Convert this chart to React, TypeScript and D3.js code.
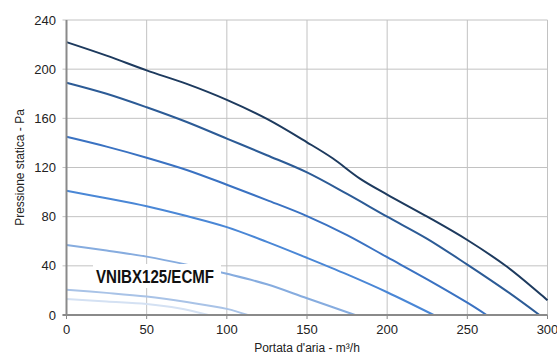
import React from "react";
import * as d3 from "d3";

const xTicks = [0, 50, 100, 150, 200, 250, 300];
const yTicks = [0, 40, 80, 120, 160, 200, 240];

const curve1: [number, number][] = [[0,222],[25,211],[50,199],[75,188],[100,175],[125,159.5],[150,140.5],[166,127.5],[183,111],[200,98],[225,80],[250,61],[275,39],[300,12]];
const curve2: [number, number][] = [[0,189],[25,180],[50,169],[75,157],[100,143.5],[125,130],[150,116],[175,98.5],[200,80],[225,62],[250,41],[275,19],[295,0]];
const curve3: [number, number][] = [[0,145],[25,137],[50,128],[75,118],[100,106],[125,93.5],[150,80.5],[175,65],[200,47],[225,29],[250,10],[262,0]];
const curve4: [number, number][] = [[0,101],[25,95],[50,88.5],[75,80.5],[100,71.5],[125,59.5],[150,46.5],[175,33],[200,18.5],[229,0]];
const curve5: [number, number][] = [[0,57],[25,52.5],[50,47.5],[75,41],[100,33.5],[125,25],[150,13.6],[180,0]];
const curve6: [number, number][] = [[0,20.5],[25,18],[50,15],[75,10.5],[100,5],[113,0]];
const curve7: [number, number][] = [[0,13],[25,11],[50,9],[70,5.5],[88.5,0]];

const series = [curve1, curve2, curve3, curve4, curve5, curve6, curve7];
const colors = ["#1d3a5e", "#2c5b96", "#3a72c2", "#4a87d6", "#86acdf", "#a9c3e7", "#d4e1f3"];
const modelLabel = "VNIBX125/ECMF";
const xTitle = "Portata d'aria - m³/h";
const yTitle = "Pressione statica - Pa";

export default function App() {
  const W = 557, H = 356;
  const x = d3.scaleLinear().domain([0, 300]).range([66.5, 547.5]);
  const y = d3.scaleLinear().domain([0, 240]).range([315, 20]);
  const line = d3.line<[number, number]>().x(d => x(d[0])).y(d => y(d[1])).curve(d3.curveCatmullRom.alpha(0.5));
  const font = "'Liberation Sans', Arial, Helvetica, sans-serif";
  return (
    <svg width={W} height={H} style={{ position: "absolute", left: 0, top: 0, background: "#fff" }}>
      {xTicks.map(t => (
        <line key={"gx" + t} x1={x(t)} x2={x(t)} y1={y(240)} y2={y(0)} stroke="#c2c2c2" strokeWidth={1} />
      ))}
      {yTicks.map(t => (
        <line key={"gy" + t} x1={x(0) - 4} x2={x(300)} y1={y(t)} y2={y(t)} stroke="#c2c2c2" strokeWidth={1} />
      ))}
      {series.map((s, i) => (
        <path key={i} d={line(s) || ""} fill="none" stroke={colors[i]} strokeWidth={2} />
      ))}
      <rect x={93} y={264} width={128} height={24} fill="#fff" />
      <text x={96} y={283} textLength={118} lengthAdjust="spacingAndGlyphs" fontFamily={font} fontWeight="bold" fontSize={19} fill="#111">{modelLabel}</text>
      <line x1={x(0)} x2={x(0)} y1={y(240)} y2={y(0) + 1} stroke="#8a8a8a" strokeWidth={2} />
      <line x1={x(0) - 4} x2={x(300)} y1={y(0)} y2={y(0)} stroke="#8a8a8a" strokeWidth={2} />
      {xTicks.map(t => (
        <line key={"tx" + t} x1={x(t)} x2={x(t)} y1={y(0)} y2={y(0) + 4} stroke="#8a8a8a" strokeWidth={1} />
      ))}
      {yTicks.map(t => (
        <text key={"ly" + t} x={56} y={y(t) + 4.5} textAnchor="end" fontFamily={font} fontSize={13} fill="#222">{t}</text>
      ))}
      {xTicks.map(t => (
        <text key={"lx" + t} x={x(t)} y={334} textAnchor="middle" fontFamily={font} fontSize={13} fill="#222">{t}</text>
      ))}
      <text x={307} y={352} textAnchor="middle" fontFamily={font} fontSize={12} fill="#222">{xTitle}</text>
      <text transform={`translate(24,${(y(0) + y(240)) / 2}) rotate(-90)`} textAnchor="middle" fontFamily={font} fontSize={12} fill="#222">{yTitle}</text>
    </svg>
  );
}
